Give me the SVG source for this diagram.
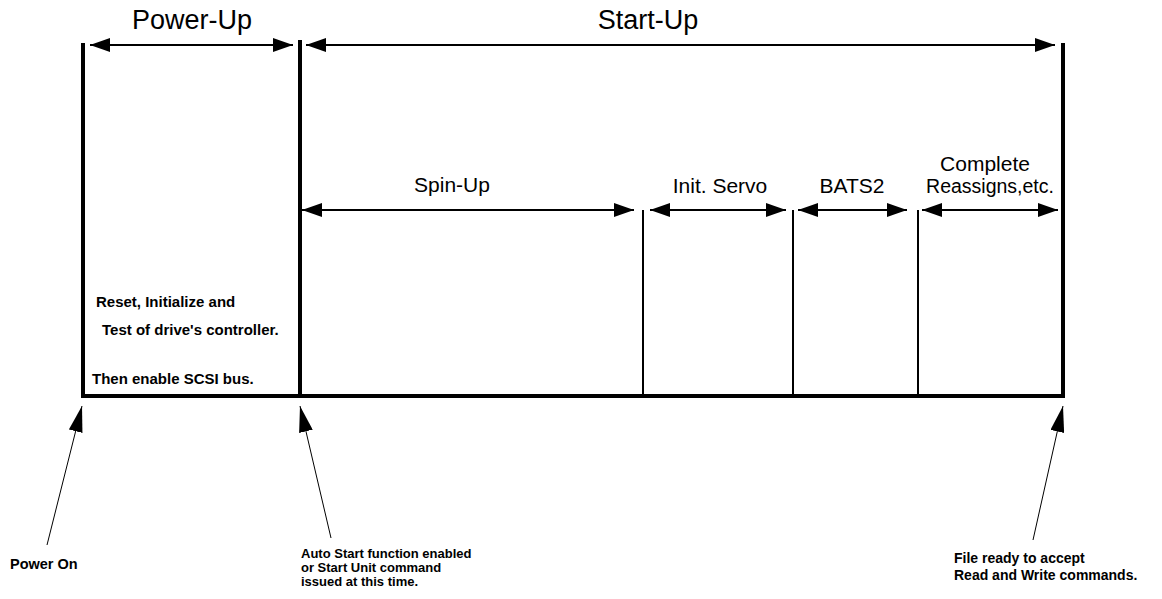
<svg xmlns="http://www.w3.org/2000/svg" width="1162" height="599" viewBox="0 0 1162 599">
<style>
text{font-family:"Liberation Sans",Arial,sans-serif;fill:#000}
.big{font-size:27px}
.mid{font-size:21px}
.sm{font-size:15px;font-weight:bold}
.as{font-size:13px;font-weight:bold}
.fr{font-size:14px;font-weight:bold}
.po{font-size:14.5px;font-weight:bold}
.thick{stroke:#000;stroke-width:4;fill:none}
.thin{stroke:#000;stroke-width:2;fill:none}
.dim{stroke:#000;stroke-width:2;fill:none;marker-start:url(#ah);marker-end:url(#ah)}
.call{stroke:#000;stroke-width:1;fill:none;marker-end:url(#cb)}
</style>
<defs>
<marker id="ah" viewBox="0 0 20 14" refX="20" refY="7" markerWidth="20" markerHeight="14" markerUnits="userSpaceOnUse" orient="auto-start-reverse">
<path d="M0,0 L20,7 L0,14 Z" fill="#000"/>
</marker>
<marker id="cb" viewBox="0 0 26 14" refX="26" refY="7" markerWidth="26" markerHeight="14" markerUnits="userSpaceOnUse" orient="auto">
<path d="M0,0 L26,7 L0,14 Z" fill="#000"/>
</marker>
</defs>
<g id="frame">
<line class="thick" x1="83" y1="43" x2="83" y2="398"/>
<line class="thick" x1="300" y1="40" x2="300" y2="398"/>
<line class="thick" x1="1063" y1="43" x2="1063" y2="398"/>
<line class="thick" x1="81" y1="396" x2="1065" y2="396"/>
<line class="thin" x1="643" y1="210" x2="643" y2="396"/>
<line class="thin" x1="793" y1="210" x2="793" y2="396"/>
<line class="thin" x1="918" y1="210" x2="918" y2="396"/>
</g>
<g id="power-up">
<text class="big" x="192" y="29" text-anchor="middle">Power-Up</text>
</g>
<g id="start-up">
<text class="big" x="648" y="29" text-anchor="middle">Start-Up</text>
</g>
<g id="spin-up">
<text class="mid" x="452" y="192" text-anchor="middle">Spin-Up</text>
</g>
<g id="init-servo">
<text class="mid" x="720" y="193" text-anchor="middle">Init. Servo</text>
</g>
<g id="bats2">
<text class="mid" x="852" y="193" text-anchor="middle">BATS2</text>
</g>
<g id="complete">
<text class="mid" x="985" y="171" text-anchor="middle">Complete</text>
<text class="mid" x="990" y="193" text-anchor="middle" style="font-size:19.5px">Reassigns,etc.</text>
</g>
<g id="power-up-text">
<text class="sm" x="96" y="307">Reset, Initialize and</text>
<text class="sm" x="102" y="335">Test of drive's controller.</text>
<text class="sm" x="92" y="384">Then enable SCSI bus.</text>
</g>
<g id="power-on">
<text class="po" x="10" y="569">Power On</text>
</g>
<g id="auto-start">
<text class="as" x="301" y="558">Auto Start function enabled</text>
<text class="as" x="301" y="572">or Start Unit command</text>
<text class="as" x="301" y="586">issued at this time.</text>
</g>
<g id="file-ready">
<text class="fr" x="954" y="563">File ready to accept</text>
<text class="fr" x="954" y="580">Read and Write commands.</text>
</g>
<g id="connectors">
<line class="dim" x1="90" y1="45" x2="293" y2="45"/>
<line class="dim" x1="306" y1="45" x2="1055" y2="45"/>
<line class="dim" x1="302" y1="210" x2="634" y2="210"/>
<line class="dim" x1="650" y1="210" x2="786" y2="210"/>
<line class="dim" x1="798" y1="210" x2="907" y2="210"/>
<line class="dim" x1="922" y1="210" x2="1058" y2="210"/>
<line class="call" x1="47" y1="545" x2="82" y2="406"/>
<line class="call" x1="331" y1="538" x2="300" y2="406"/>
<line class="call" x1="1033" y1="540" x2="1063" y2="406"/>
</g>
</svg>
